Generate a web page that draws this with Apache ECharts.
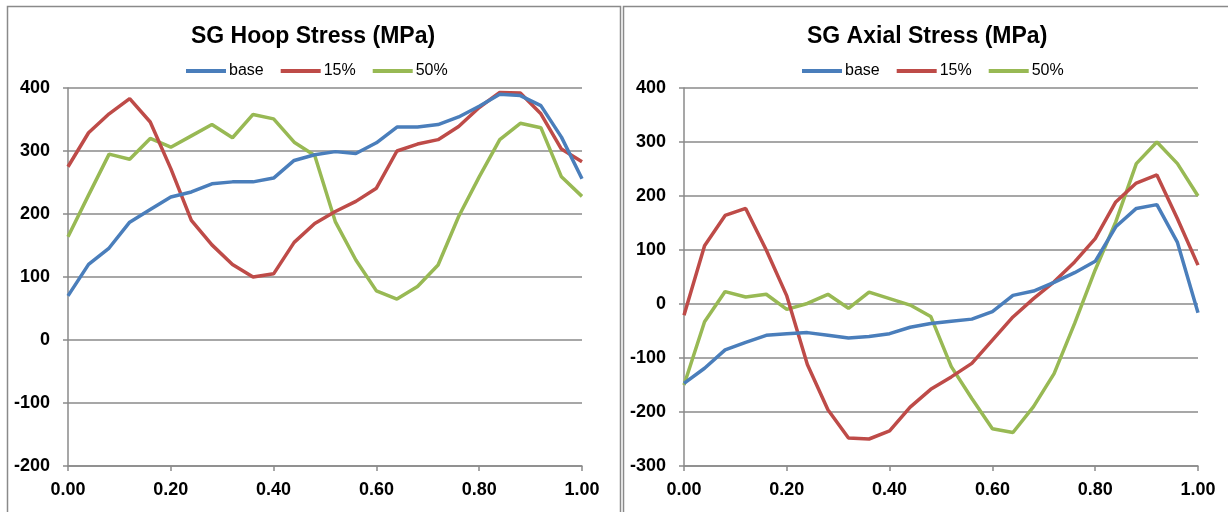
<!DOCTYPE html>
<html>
<head>
<meta charset="utf-8">
<script src="https://cdn.jsdelivr.net/npm/echarts@6/dist/echarts.min.js"></script>
<style>
html,body{margin:0;padding:0;background:#fff;}
#chart{width:1228px;height:512px;}
</style>
</head>
<body>
<div id="chart"></div>
<script>
const xs = [0,0.04,0.08,0.12,0.16,0.20,0.24,0.28,0.32,0.36,0.40,0.44,0.48,0.52,0.56,0.60,0.64,0.68,0.72,0.76,0.80,0.84,0.88,0.92,0.96,1.00];
const seriesNames = ['base','15%','50%'];
const hoopBase = [70,120,146,187,207,227,235,248,251,251,257,285,294,299,296,313,338,338,342,354,371,390,388,372,322,256];
const hoop15   = [275,329,359,383,346,272,190,151,120,100,105,155,185,204,220,241,300,311,318,339,369,393,392,359,303,283];
const hoop50   = [164,230,295,287,320,306,324,342,321,358,351,314,293,188,127,78,65,85,119,196,259,318,344,337,259,228];
const axialBase = [-147,-119,-85,-71,-58,-55,-53,-58,-63,-60,-55,-43,-36,-32,-28,-14,16,24,40,58,79,143,177,184,114,-16];
const axial15   = [-21,108,164,177,100,15,-112,-196,-248,-250,-235,-191,-158,-135,-110,-67,-24,10,41,78,121,189,224,239,158,72];
const axial50   = [-150,-33,23,13,18,-10,1,18,-8,22,10,-2,-23,-116,-175,-231,-238,-190,-129,-36,63,152,260,300,260,200];
const titles = ['SG Hoop Stress (MPa)','SG Axial Stress (MPa)'];
const colors = ['#4A7EBB','#BE4B48','#98B954'];

const pair = arr => arr.map((v,i)=>[xs[i],v]);
const FONT = 'Liberation Sans';
const gridColor = '#8a8a8a';

function xAxis(gi){
  return {type:'value',gridIndex:gi,min:0,max:1,interval:0.2,
    axisLine:{show:true,onZero:false,lineStyle:{color:gridColor,width:1.5}},
    axisTick:{show:true,length:5,lineStyle:{color:gridColor,width:1.5}},
    splitLine:{show:false},
    axisLabel:{margin:15,color:'#000',fontFamily:FONT,fontWeight:'bold',fontSize:18,formatter:v=>v.toFixed(2)}};
}
function yAxis(gi,min,max){
  return {type:'value',gridIndex:gi,min:min,max:max,interval:100,
    axisLine:{show:true,onZero:false,lineStyle:{color:gridColor,width:1.5}},
    axisTick:{show:true,length:5,lineStyle:{color:gridColor,width:1.5}},
    splitLine:{show:true,lineStyle:{color:gridColor,width:1.5}},
    axisLabel:{margin:18,color:'#000',fontFamily:FONT,fontWeight:'bold',fontSize:18}};
}
function mk(name,data,gi,ci){
  return {name:name,type:'line',xAxisIndex:gi,yAxisIndex:gi,data:pair(data),
    showSymbol:false,symbol:'none',lineStyle:{width:3.5,color:colors[ci]},itemStyle:{color:colors[ci]},
    animation:false,z:3-ci+2};
}
const legendCommon = {orient:'horizontal',icon:'rect',itemWidth:40,itemHeight:4,itemGap:17,padding:0,
  textStyle:{fontFamily:FONT,fontSize:16,color:'#000',padding:[0,0,0,-2]},data:seriesNames};

const chart = echarts.init(document.getElementById('chart'),null,{renderer:'canvas'});
chart.setOption({
  backgroundColor:'#fff',
  animation:false,
  title:[
    {text:titles[0],left:191,top:25,padding:0,textStyle:{fontFamily:FONT,fontWeight:'bold',fontSize:23,color:'#000'}},
    {text:titles[1],left:807,top:25,padding:0,textStyle:{fontFamily:FONT,fontWeight:'bold',fontSize:23,color:'#000'}}
  ],
  legend:[
    Object.assign({left:186,top:63},legendCommon),
    Object.assign({left:802,top:63},legendCommon)
  ],
  grid:[
    {left:68,right:646,top:88,bottom:46},
    {left:684,right:30,top:88,bottom:46}
  ],
  xAxis:[xAxis(0),xAxis(1)],
  yAxis:[yAxis(0,-200,400),yAxis(1,-300,400)],
  graphic:[
    {type:'rect',shape:{x:7.5,y:6.5,width:613,height:520},style:{fill:'none',stroke:'#8a8a8a',lineWidth:1.5},silent:true},
    {type:'rect',shape:{x:623.5,y:6.5,width:620,height:520},style:{fill:'none',stroke:'#8a8a8a',lineWidth:1.5},silent:true}
  ],
  series:[
    mk(seriesNames[0],hoopBase,0,0),mk(seriesNames[1],hoop15,0,1),mk(seriesNames[2],hoop50,0,2),
    mk(seriesNames[0],axialBase,1,0),mk(seriesNames[1],axial15,1,1),mk(seriesNames[2],axial50,1,2)
  ]
});
</script>
</body>
</html>
